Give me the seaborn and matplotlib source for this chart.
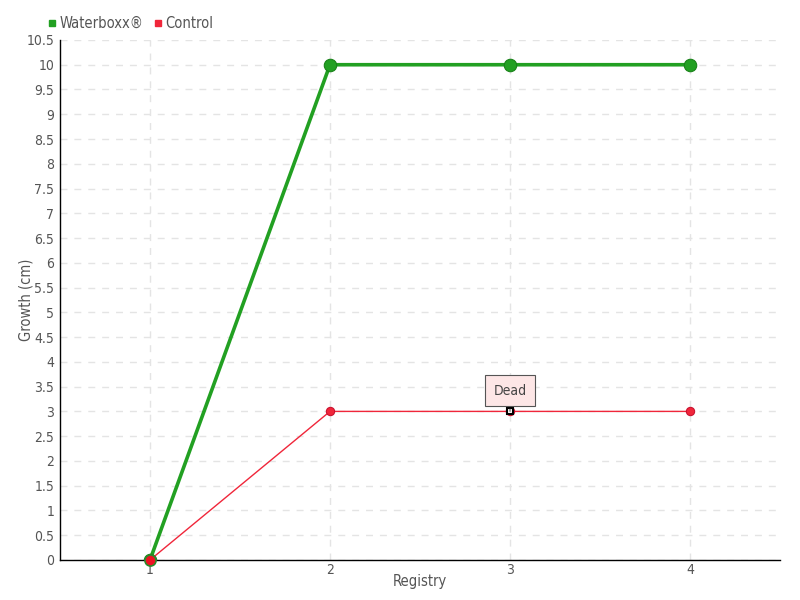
import matplotlib
matplotlib.use("Agg")
import matplotlib.pyplot as plt
import seaborn as sns
import pandas as pd
import numpy as np

registry = [1, 2, 3, 4]
waterboxx = [0, 10, 10, 10]
control = [0, 3, 3, 3]
dead_point = 3  # registry where control plant was marked dead
y_ticks = np.arange(0, 10.51, 0.5)

sns.set_style("white")
plt.rcParams["font.family"] = ["DejaVu Sans"]
plt.rcParams["font.stretch"] = "condensed"

df = pd.DataFrame({
    "Registry": registry * 2,
    "Growth": waterboxx + control,
    "serie": ["Waterboxx®"] * 4 + ["Control"] * 4,
})

fig = plt.figure(figsize=(8, 6), dpi=100)
ax = fig.add_axes([0.075, 0.0667, 0.9, 0.8667])

green = "#22a022"
red = "#f0263a"
sns.lineplot(data=df[df.serie == "Control"], x="Registry", y="Growth", color=red,
             linewidth=1, marker="o", markersize=6, markeredgecolor="#c8102e", ax=ax, zorder=3)
sns.lineplot(data=df[df.serie == "Waterboxx®"], x="Registry", y="Growth", color=green,
             linewidth=2.6, marker="o", markersize=9, markeredgecolor="#178017", ax=ax, zorder=2)
# first control point on top of green
ax.plot(registry[0], control[0], "o", color="#ee1122", markersize=8, markeredgecolor="#2a8a2a",
        markeredgewidth=1.2, zorder=4, clip_on=False)
# dead marker
ax.plot(dead_point, control[registry.index(dead_point)], "s", color="white",
        markeredgecolor="black", markersize=5, markeredgewidth=1.5, zorder=5)

ax.annotate("Dead", xy=(dead_point, control[registry.index(dead_point)]), xytext=(0, 15),
            textcoords="offset points", ha="center", va="center", fontsize=10, color="#444444",
            bbox=dict(boxstyle="square,pad=0.6", fc="#fde6e6", ec="#555555", lw=0.8),
            arrowprops=dict(arrowstyle="-", color="#555555", lw=0.8), zorder=6)

ax.set_xlim(0.5, 4.5)
ax.set_ylim(0, 10.5)
ax.set_xticks(registry)
ax.set_yticks(y_ticks)
ax.set_yticklabels([f"{v:g}" for v in y_ticks])
ax.tick_params(direction="inout", length=6, width=1, colors="black", labelcolor="#555555", labelsize=10)
ax.tick_params(axis="y", pad=1)
ax.tick_params(axis="x", pad=-1)
ax.grid(True, linestyle=(0, (5, 5)), color="#e4e4e4", linewidth=1)
for s in ["top", "right"]:
    ax.spines[s].set_visible(False)
for s in ["left", "bottom"]:
    ax.spines[s].set_color("black")
    ax.spines[s].set_linewidth(1)
ax.set_xlabel("Registry", fontsize=10.5, color="#555555")
ax.set_ylabel("Growth (cm)", fontsize=10.5, color="#555555")
ax.yaxis.set_label_coords(-0.037, 0.5)
ax.xaxis.set_label_coords(0.5, -0.026)

handles = [plt.Line2D([], [], marker="s", linestyle="", color=green, markersize=5),
           plt.Line2D([], [], marker="s", linestyle="", color=red, markersize=5)]
fig.legend(handles, ["Waterboxx®", "Control"], loc="upper left", bbox_to_anchor=(0.04, 0.995),
           ncol=2, frameon=False, fontsize=10.5, labelcolor="#555555",
           handletextpad=0.0, columnspacing=0.5, handlelength=1.0)

fig.savefig("out.png", dpi=100)
